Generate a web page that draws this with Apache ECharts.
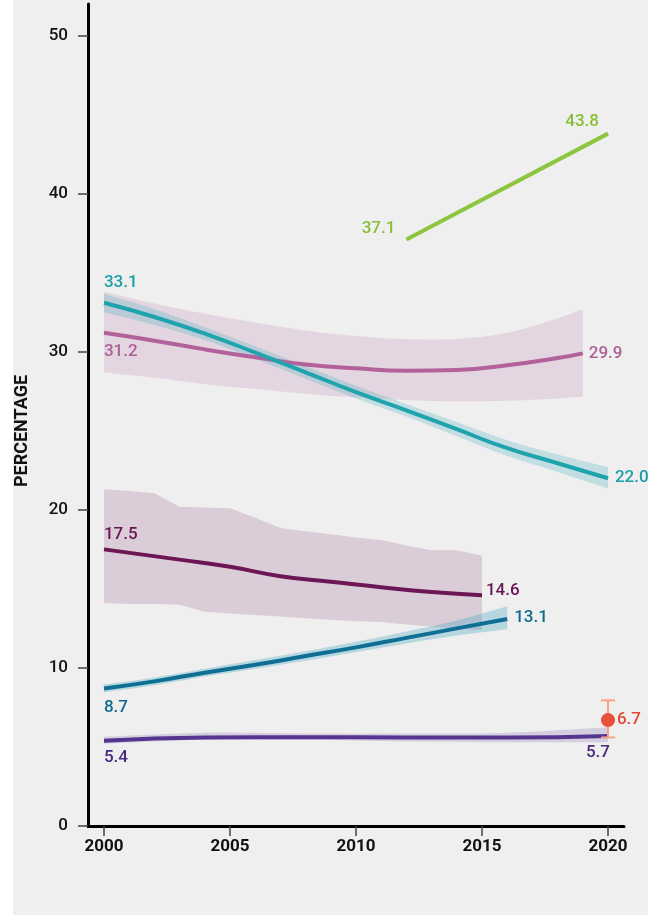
<!DOCTYPE html>
<html>
<head>
<meta charset="utf-8">
<script src="https://cdn.jsdelivr.net/npm/echarts@6/dist/echarts.min.js"></script>
<style>
html, body { margin: 0; padding: 0; background: #fff; }
#chart { width: 648px; height: 915px; }
</style>
</head>
<body>
<div id="chart"></div>
<script>
// values
var xTicks = [2000, 2005, 2010, 2015, 2020];
var yTicks = [0, 10, 20, 30, 40, 50];

// green
var gnYears = [2012, 2020];
var gnVals = [37.1, 43.8];

// teal
var tlYears = [2000, 2002, 2004, 2006, 2008, 2010, 2012, 2014, 2016, 2018, 2020];
var tlVals = [33.1, 32.2, 31.15, 29.95, 28.7, 27.45, 26.3, 25.1, 23.9, 22.95, 22.0];
var tlLow = [32.5, 31.7, 30.75, 29.55, 28.3, 27.05, 25.9, 24.65, 23.4, 22.4, 21.35];
var tlHigh = [33.65, 32.7, 31.55, 30.35, 29.1, 27.85, 26.7, 25.55, 24.4, 23.5, 22.7];

// pink
var pkYears = [2000, 2002, 2004, 2006, 2008, 2010, 2012, 2014, 2016, 2018, 2019];
var pkVals = [31.2, 30.7, 30.15, 29.65, 29.2, 28.95, 28.8, 28.85, 29.15, 29.6, 29.9];
var pkLow = [28.7, 28.35, 27.95, 27.65, 27.35, 27.1, 26.95, 26.85, 26.9, 27.05, 27.15];
var pkHigh = [33.8, 33.05, 32.4, 31.85, 31.35, 31.0, 30.8, 30.8, 31.2, 32.1, 32.7];

// dark purple
var dpYears = [2000, 2003, 2005, 2007, 2009, 2011, 2013, 2015];
var dpVals = [17.5, 16.85, 16.4, 15.8, 15.45, 15.1, 14.8, 14.6];
var dpBandYears = [2000, 2001, 2002, 2003, 2004, 2005, 2006, 2007, 2008, 2009, 2010, 2011, 2012, 2013, 2014, 2015];
var dpLow = [14.1, 14.05, 14.05, 14.0, 13.55, 13.45, 13.35, 13.25, 13.15, 13.05, 12.95, 12.9, 12.75, 12.6, 12.5, 12.4];
var dpHigh = [21.3, 21.2, 21.05, 20.2, 20.15, 20.1, 19.5, 18.85, 18.65, 18.45, 18.25, 18.1, 17.75, 17.45, 17.45, 17.1];

// dark teal
var dtYears = [2000, 2002, 2004, 2006, 2008, 2010, 2012, 2014, 2016];
var dtVals = [8.7, 9.15, 9.7, 10.2, 10.75, 11.3, 11.9, 12.5, 13.1];
var dtLow = [8.45, 8.9, 9.45, 9.95, 10.45, 11.0, 11.55, 12.05, 12.45];
var dtHigh = [8.95, 9.4, 9.95, 10.5, 11.05, 11.65, 12.3, 13.0, 13.9];

// purple
var puYears = [2000, 2004, 2008, 2012, 2016, 2020];
var puVals = [5.4, 5.6, 5.62, 5.6, 5.6, 5.7];
var puLow = [5.2, 5.45, 5.45, 5.35, 5.3, 5.3];
var puHigh = [5.65, 5.9, 5.85, 5.85, 5.9, 6.25];

// red point with error bar
var rdYear = 2020;
var rdVal = 6.7;
var rdLow = 5.6;
var rdHigh = 7.95;

var FONT = 'Roboto, "Liberation Sans", sans-serif';

function zip(xs, ys) {
	var out = [];
	for (var i = 0; i < xs.length; i++) out.push([xs[i], ys[i]]);
	return out;
}

// line
function lineSeries(xs, ys, color, smooth) {
	return {
		type: 'line',
		data: zip(xs, ys),
		smooth: smooth,
		symbol: 'none',
		silent: true,
		z: 5,
		lineStyle: { color: color, width: 4 }
	};
}

// confidence band as one polygon
function bandSeries(xs, lo, hi, color, smooth) {
	var rows = [];
	for (var i = 0; i < xs.length; i++) rows.push([xs[i], lo[i], hi[i]]);
	return {
		type: 'custom',
		data: rows,
		encode: { x: 0, y: [1, 2] },
		silent: true,
		z: 2,
		renderItem: function (params, api) {
			if (params.dataIndex !== 0) return;
			var top = [], bot = [];
			for (var k = 0; k < rows.length; k++) {
				top.push(api.coord([rows[k][0], rows[k][2]]));
				bot.push(api.coord([rows[k][0], rows[k][1]]));
			}
			var n = top.length;
			bot.reverse();
			var pts = [top[0]].concat(top, [top[n - 1]], [bot[0]], bot, [bot[n - 1]]);
			return {
				type: 'polygon',
				shape: { points: pts, smooth: smooth ? 0.35 : 0 },
				style: { fill: color }
			};
		}
	};
}

// value labels at ends of lines
function labelSeries(items, color) {
	return {
		type: 'scatter',
		symbolSize: 0.1,
		silent: true,
		z: 8,
		itemStyle: { color: 'rgba(0,0,0,0)', opacity: 1 },
		data: items.map(function (it) {
			return {
				value: [it[0], it[1]],
				label: {
					show: true,
					formatter: it[1].toFixed(1),
					position: [it[2], it[3]],
					align: it[4] || 'left',
					verticalAlign: 'middle',
					color: color,
					opacity: 1,
					fontFamily: FONT,
					fontSize: 17,
					fontWeight: 500
				}
			};
		})
	};
}

var chart = echarts.init(document.getElementById('chart'));

var last = function (a) { return a[a.length - 1]; };

var option = {
	backgroundColor: '#ffffff',
	animation: false,
	graphic: [
		{ type: 'rect', z: -10, shape: { x: 13, y: 0, width: 635, height: 915 }, style: { fill: '#efefef' } },
		{
			type: 'text', x: 22, y: 431, rotation: Math.PI / 2,
			style: {
				text: 'PERCENTAGE', fill: '#111', font: 'bold 18px ' + FONT,
				align: 'center', verticalAlign: 'middle'
			}
		}
	],
	grid: { left: 88, right: 24, top: 4, bottom: 89 },
	xAxis: {
		type: 'value',
		min: 1999.365,
		max: 2020.635,
		splitLine: { show: false },
		axisLine: { lineStyle: { color: '#000', width: 3 } },
		axisTick: { customValues: xTicks, length: 10, lineStyle: { color: '#444', width: 1.5 } },
		axisLabel: {
			customValues: xTicks, margin: 12, color: '#111',
			fontFamily: FONT, fontSize: 17, fontWeight: 'bold',
			formatter: function (v) { return String(v); }
		}
	},
	yAxis: {
		type: 'value',
		min: 0,
		max: 52,
		splitLine: { show: false },
		axisLine: { show: true, lineStyle: { color: '#000', width: 3 } },
		axisTick: { show: true, customValues: yTicks, length: 10, lineStyle: { color: '#444', width: 1.5 } },
		axisLabel: {
			customValues: yTicks, margin: 20, color: '#111',
			fontFamily: FONT, fontSize: 17, fontWeight: 500
		}
	},
	series: [
		bandSeries(pkYears, pkLow, pkHigh, 'rgba(176,97,154,0.17)', true),
		bandSeries(dpBandYears, dpLow, dpHigh, 'rgba(130,50,110,0.18)', false),
		bandSeries(tlYears, tlLow, tlHigh, 'rgba(60,170,190,0.25)', true),
		bandSeries(dtYears, dtLow, dtHigh, 'rgba(50,160,185,0.3)', true),
		bandSeries(puYears, puLow, puHigh, 'rgba(90,60,150,0.18)', true),

		lineSeries(pkYears, pkVals, '#b2619b', true),
		lineSeries(tlYears, tlVals, '#1fa3ad', true),
		lineSeries(gnYears, gnVals, '#8cc63e', false),
		lineSeries(dpYears, dpVals, '#6d1656', true),
		lineSeries(dtYears, dtVals, '#0e6e93', true),
		lineSeries(puYears, puVals, '#55358f', true),

		{
			type: 'custom',
			data: [[rdYear, rdLow, rdHigh]],
			encode: { x: 0, y: [1, 2] },
			silent: true,
			z: 6,
			renderItem: function (params, api) {
				var lo = api.coord([api.value(0), api.value(1)]);
				var hi = api.coord([api.value(0), api.value(2)]);
				var st = { stroke: '#f4a486', lineWidth: 2 };
				return {
					type: 'group',
					children: [
						{ type: 'line', shape: { x1: lo[0], y1: lo[1], x2: hi[0], y2: hi[1] }, style: st },
						{ type: 'line', shape: { x1: hi[0] - 7, y1: hi[1], x2: hi[0] + 7, y2: hi[1] }, style: st },
						{ type: 'line', shape: { x1: lo[0] - 7, y1: lo[1], x2: lo[0] + 7, y2: lo[1] }, style: st }
					]
				};
			}
		},
		{
			type: 'scatter',
			data: [[rdYear, rdVal]],
			symbolSize: 14,
			silent: true,
			z: 7,
			itemStyle: { color: '#e9503b', opacity: 1 }
		},

		labelSeries([[tlYears[0], tlVals[0], 0, -20], [last(tlYears), last(tlVals), 7, 0]], '#1b9fa8'),
		labelSeries([[pkYears[0], pkVals[0], 0, 19], [last(pkYears), last(pkVals), 6, 0]], '#ad5f97'),
		labelSeries([[gnYears[0], gnVals[0], -11, -11, 'right'], [last(gnYears), last(gnVals), -9, -12, 'right']], '#86c036'),
		labelSeries([[dpYears[0], dpVals[0], 0, -15], [last(dpYears), last(dpVals), 4, -4]], '#6a1553'),
		labelSeries([[dtYears[0], dtVals[0], 0, 19], [last(dtYears), last(dtVals), 7, -1]], '#0e6a8f'),
		labelSeries([[puYears[0], puVals[0], 0, 17], [last(puYears), last(puVals), 2, 17, 'right']], '#46297f'),
		labelSeries([[rdYear, rdVal, 9, 0]], '#e44a31')
	]
};
chart.setOption(option);
</script>
</body>
</html>
